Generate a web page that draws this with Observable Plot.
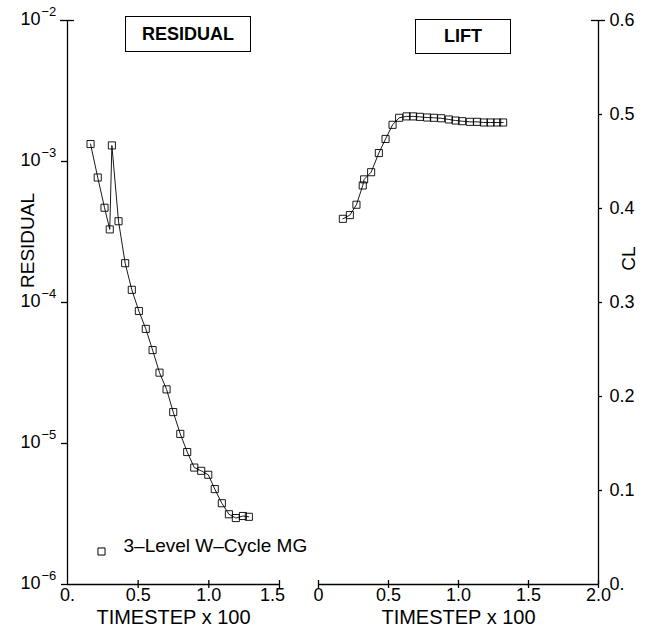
<!DOCTYPE html>
<html><head><meta charset="utf-8">
<script src="https://cdn.jsdelivr.net/npm/d3@7"></script>
<script src="https://cdn.jsdelivr.net/npm/@observablehq/plot@0.6"></script>
<style>
body{margin:0;background:#fff;}
#chart{position:relative;width:649px;height:637px;font-family:"Liberation Sans",Arial,sans-serif;}
#chart svg{position:absolute;top:0;overflow:visible;}
.tbox{position:absolute;border:1.5px solid #000;font-weight:bold;font-size:18px;display:flex;align-items:center;justify-content:center;box-sizing:border-box;color:#000;}
</style></head><body><div id="chart"></div>
<script>
// Residual history (left panel)
const residTime = [0.163,0.214,0.262,0.299,0.314,0.361,0.408,0.455,0.505,0.554,0.602,0.651,0.701,0.748,0.798,0.847,0.897,0.946,0.996,1.042,1.092,1.142,1.191,1.241,1.283];
const residValue = [1.33e-3,7.7e-4,4.7e-4,3.3e-4,1.30e-3,3.77e-4,1.9e-4,1.23e-4,8.7e-5,6.5e-5,4.6e-5,3.18e-5,2.42e-5,1.67e-5,1.17e-5,8.7e-6,6.75e-6,6.4e-6,6.0e-6,4.75e-6,3.77e-6,3.15e-6,2.96e-6,3.06e-6,3.02e-6];
// Lift history (right panel)
const liftTime = [0.174,0.224,0.271,0.316,0.326,0.376,0.431,0.479,0.529,0.576,0.629,0.676,0.724,0.776,0.824,0.876,0.931,0.979,1.026,1.081,1.133,1.181,1.229,1.276,1.319];
const liftCL = [0.389,0.393,0.404,0.4245,0.431,0.4386,0.459,0.474,0.489,0.4965,0.498,0.498,0.4975,0.4968,0.4965,0.496,0.4947,0.4936,0.4929,0.4922,0.4922,0.4915,0.4915,0.4915,0.4915];
// Tick labels
const residTickValues = [1e-6,1e-5,1e-4,1e-3,1e-2];
const residTickExp = ["−6","−5","−4","−3","−2"];
const leftXTickValues = [0,0.5,1.0,1.5];
const leftXTickLabels = ["0.","0.5","1.0","1.5"];
const rightXTickValues = [0,0.5,1.0,1.5,2.0];
const rightXTickLabels = ["0","0.5","1.0","1.5","2.0"];
const clTickValues = [0,0.1,0.2,0.3,0.4,0.5,0.6];
const clTickLabels = ["0.","0.1","0.2","0.3","0.4","0.5","0.6"];
const titles = ["RESIDUAL","LIFT"];
const legendLabel = "3–Level W–Cycle MG";
const xLabel = "TIMESTEP x 100";

const FONT = "Liberation Sans, Arial, Helvetica, sans-serif";
const resid = residTime.map((t,i)=>({t, v: residValue[i]}));
const lift = liftTime.map((t,i)=>({t, v: liftCL[i]}));
const rTicks = residTickValues.map((v,i)=>({v, e: residTickExp[i]}));
const lxTicks = leftXTickValues.map((v,i)=>({v, t: leftXTickLabels[i]}));
const rxTicks = rightXTickValues.map((v,i)=>({v, t: rightXTickLabels[i]}));
const clTicks = clTickValues.map((v,i)=>({v, t: clTickLabels[i]}));

const H = 637, MT = 20, MB = 53, PH = H - MT - MB;
const LW = 300, LML = 67, LMR = 21, LPW = LW - LML - LMR;
const RW = 349, RML = 18, RMR = 51, RPW = RW - RML - RMR;
const ax = {stroke: "#000", strokeWidth: 1.3};

const left = Plot.plot({
  width: LW, height: H, marginLeft: LML, marginRight: LMR, marginTop: MT, marginBottom: MB,
  style: {fontFamily: FONT, fontSize: "18px", background: "transparent", color: "#000"},
  x: {domain: [0, 1.5], axis: null},
  y: {type: "log", domain: [1e-6, 1e-2], axis: null},
  marks: [
    Plot.ruleX([0], ax),
    Plot.ruleY([1e-6], ax),
    Plot.ruleY(residTickValues.slice(0,4), {...ax, insetLeft: -6, insetRight: LPW}),
    Plot.ruleY([1e-2], {...ax, insetLeft: -7, insetRight: LPW - 7}),
    Plot.ruleX(leftXTickValues.slice(1), {...ax, insetTop: PH - 4, insetBottom: -4}),
    Plot.line(resid, {x: "t", y: "v", stroke: "#000", strokeWidth: 0.9}),
    Plot.dot(resid, {x: "t", y: "v", symbol: "square", r: 4, stroke: "#000", fill: "none", strokeWidth: 0.9}),
    Plot.text(rTicks, {y: "v", text: () => "10", frameAnchor: "left", textAnchor: "end", dx: -27, dy: -1, fontSize: 18}),
    Plot.text(rTicks, {y: "v", text: "e", frameAnchor: "left", textAnchor: "start", dx: -26, dy: -9, fontSize: 13}),
    Plot.text(lxTicks.slice(0,3), {x: "v", text: "t", frameAnchor: "bottom", dy: 16, fontSize: 18}),
    Plot.text(lxTicks.slice(3), {x: "v", text: "t", frameAnchor: "bottom", dy: 16, dx: -7, fontSize: 18}),
    Plot.text([xLabel], {frameAnchor: "bottom", dy: 39, fontSize: 20}),
    Plot.text(["RESIDUAL"], {frameAnchor: "left", textAnchor: "middle", rotate: -90, dx: -40, dy: -62, fontSize: 19}),
    Plot.dot([legendLabel], {frameAnchor: "bottom-left", dx: 34, dy: -33, symbol: "square", r: 4, stroke: "#000", fill: "none", strokeWidth: 1}),
    Plot.text([legendLabel], {frameAnchor: "bottom-left", textAnchor: "start", dx: 56, dy: -33, fontSize: 19})
  ]
});
left.style.left = "0px";

const right = Plot.plot({
  width: RW, height: H, marginLeft: RML, marginRight: RMR, marginTop: MT, marginBottom: MB,
  style: {fontFamily: FONT, fontSize: "18px", background: "transparent", color: "#000"},
  x: {domain: [0, 2], axis: null},
  y: {domain: [0, 0.6], axis: null},
  marks: [
    Plot.ruleX([2], ax),
    Plot.ruleY([0], ax),
    Plot.ruleY(clTickValues.slice(1,6), {...ax, insetLeft: RPW, insetRight: -4}),
    Plot.ruleY([0.6], {...ax, insetLeft: RPW - 7, insetRight: -7}),
    Plot.ruleX(rightXTickValues, {...ax, insetTop: PH - 4, insetBottom: -4}),
    Plot.line(lift, {x: "t", y: "v", stroke: "#000", strokeWidth: 0.9}),
    Plot.dot(lift, {x: "t", y: "v", symbol: "square", r: 4, stroke: "#000", fill: "none", strokeWidth: 0.9}),
    Plot.text(clTicks, {y: "v", text: "t", frameAnchor: "right", textAnchor: "start", dx: 11, fontSize: 18}),
    Plot.text(rxTicks, {x: "v", text: "t", frameAnchor: "bottom", dy: 16, fontSize: 18}),
    Plot.text([xLabel], {frameAnchor: "bottom", dy: 39, fontSize: 20}),
    Plot.text(["CL"], {frameAnchor: "right", textAnchor: "middle", rotate: -90, dx: 30, dy: -44, fontSize: 19})
  ]
});
right.style.left = LW + "px";

const chart = document.getElementById("chart");
chart.appendChild(left);
chart.appendChild(right);

const boxes = [
  {t: titles[0], l: 125, tp: 16, w: 126, h: 36},
  {t: titles[1], l: 415, tp: 19, w: 96, h: 35}
];
for (const b of boxes) {
  const d = document.createElement("div");
  d.className = "tbox";
  d.textContent = b.t;
  Object.assign(d.style, {left: b.l + "px", top: b.tp + "px", width: b.w + "px", height: b.h + "px"});
  chart.appendChild(d);
}
</script></body></html>
